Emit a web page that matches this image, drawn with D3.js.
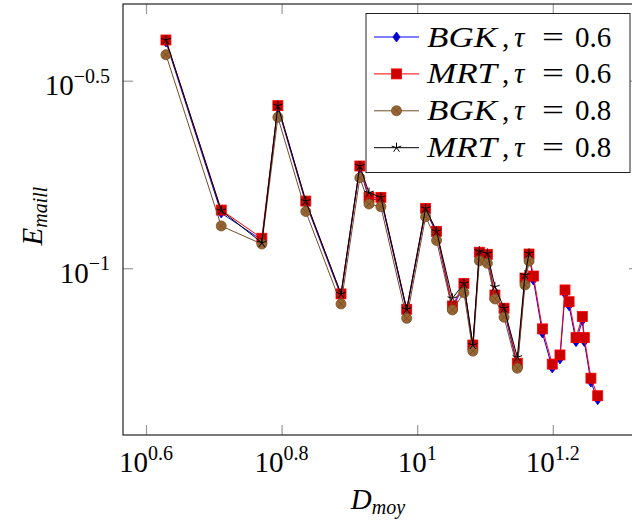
<!DOCTYPE html>
<html>
<head>
<meta charset="utf-8">
<script src="https://cdn.jsdelivr.net/npm/d3@7"></script>
<style>
  body { margin: 0; background: #fff; }
  svg { display: block; }
</style>
</head>
<body>
<div class="canva"></div>
<script>
// mean diameter (x), shared by all series; the tau = 0.8 runs stop after 22 points
const dMoy = [4.26, 5.14, 5.90, 6.23, 6.85, 7.72, 8.23, 8.49, 8.84, 9.65, 10.29, 10.68,
    11.27, 11.72, 12.08, 12.35, 12.69, 13.02, 13.43, 14.05, 14.42, 14.62, 14.84, 15.30,
    15.82, 16.24, 16.52, 16.75, 17.15, 17.52, 17.64, 18.04, 18.46];

const bgk06 = [0.401, 0.1403, 0.1188, 0.268, 0.1492, 0.0844, 0.185, 0.1526, 0.1526, 0.0768,
    0.1427, 0.1239, 0.0783, 0.0900, 0.0616, 0.1090, 0.1076, 0.0838, 0.0772, 0.0551, 0.0930,
    0.1078, 0.0930, 0.0672, 0.0542, 0.0573, 0.0854, 0.0794, 0.0637, 0.0725, 0.0637, 0.0497, 0.0446];

const mrt06 = [0.406, 0.1429, 0.1202, 0.2713, 0.1510, 0.0854, 0.1873, 0.1545, 0.1545, 0.0777,
    0.1444, 0.1254, 0.0793, 0.0911, 0.0624, 0.1103, 0.1089, 0.0848, 0.0782, 0.0558, 0.0941,
    0.1091, 0.0953, 0.0689, 0.0555, 0.0587, 0.0875, 0.0814, 0.0653, 0.0743, 0.0653, 0.0509, 0.0457];

const bgk08 = [0.371, 0.1296, 0.1160, 0.2526, 0.1416, 0.0803, 0.1743, 0.1483, 0.1459, 0.0735,
    0.1372, 0.1186, 0.0774, 0.0860, 0.0601, 0.1047, 0.1031, 0.0828, 0.0740, 0.0541, 0.0902, 0.1045];

const mrt08 = [0.406, 0.1425, 0.1169, 0.2713, 0.1510, 0.0854, 0.1873, 0.1590, 0.1545, 0.0777,
    0.1444, 0.1254, 0.0831, 0.0911, 0.0624, 0.1110, 0.1095, 0.0892, 0.0782, 0.0579, 0.0959, 0.1095];

const xTickExps = [0.6, 0.8, 1, 1.2];
const yTickExps = [-0.5, -1];

const seriesNames = ["BGK", "MRT", "BGK", "MRT"];
const seriesTaus = ["0.6", "0.6", "0.8", "0.8"];

const width = 632, height = 523;
const margin = { top: 4, right: -7, bottom: 88, left: 123 };
const plotW = width - margin.left - margin.right;
const plotH = height - margin.top - margin.bottom;
const font = "'Liberation Serif', 'Times New Roman', serif";

const svg = d3.select(".canva").append("svg")
    .attr("width", width)
    .attr("height", height)
    .attr("font-family", font);

const x = d3.scaleLog()
    .domain([Math.pow(10, 0.56608), Math.pow(10, 1.32714)])
    .range([0, plotW]);
const y = d3.scaleLog()
    .domain([Math.pow(10, -1.4448), Math.pow(10, -0.29547)])
    .range([plotH, 0]);

const graph = svg.append("g")
    .attr("transform", `translate(${margin.left}, ${margin.top})`);

// ticks (inward, on all four sides)
const xTicks = xTickExps.map(e => Math.pow(10, e));
const yTicks = yTickExps.map(e => Math.pow(10, e));
const styleTicks = g => {
    g.select(".domain").remove();
    g.selectAll("line").attr("stroke", "#999").attr("stroke-width", 1.2);
    g.selectAll("text").remove();
};
graph.append("g").attr("transform", `translate(0, ${plotH})`)
    .call(d3.axisBottom(x).tickValues(xTicks).tickSize(-10)).call(styleTicks);
graph.append("g")
    .call(d3.axisTop(x).tickValues(xTicks).tickSize(-10)).call(styleTicks);
graph.append("g")
    .call(d3.axisLeft(y).tickValues(yTicks).tickSize(-10)).call(styleTicks);
graph.append("g").attr("transform", `translate(${plotW}, 0)`)
    .call(d3.axisRight(y).tickValues(yTicks).tickSize(-10)).call(styleTicks);

// tick labels as 10^e
xTickExps.forEach(e => {
    const t = graph.append("text")
        .attr("x", x(Math.pow(10, e)))
        .attr("y", plotH + 37)
        .attr("text-anchor", "middle")
        .attr("font-family", font)
        .style("font-size", "29px");
    t.append("tspan").text("10");
    t.append("tspan").attr("dy", -12.5).style("font-size", "20px").text(String(e));
});
yTickExps.forEach(e => {
    const t = graph.append("text")
        .attr("x", -13)
        .attr("y", y(Math.pow(10, e)) + 14.5)
        .attr("text-anchor", "end")
        .attr("font-family", font)
        .style("font-size", "29px");
    t.append("tspan").text("10");
    t.append("tspan").attr("dy", -12.5).style("font-size", "20px").text(String(e).replace("-", "\u2212"));
});

// axis labels
const xl = svg.append("text")
    .attr("x", 378)
    .attr("y", 509)
    .attr("text-anchor", "middle")
    .attr("font-family", font)
    .style("font-size", "29px")
    .style("font-style", "italic");
xl.append("tspan").text("D");
xl.append("tspan").attr("dy", 4.5).style("font-size", "20px").text("moy");

const yl = svg.append("text")
    .attr("transform", "translate(42, 216) rotate(-90)")
    .attr("text-anchor", "middle")
    .attr("font-family", font)
    .style("font-size", "29px")
    .style("font-style", "italic");
yl.append("tspan").text("E");
yl.append("tspan").attr("dy", 4.5).style("font-size", "20px").text("maill");

// marker shapes
const markers = {
    diamond: (g, c) => g.append("path").attr("d", "M0,-5L3.6,0L0,5L-3.6,0Z")
        .attr("fill", "#0000cc").attr("stroke", c.color).attr("stroke-width", 0.8),
    square: (g, c) => g.append("rect").attr("x", -5).attr("y", -5).attr("width", 10).attr("height", 10)
        .attr("fill", "#cc0000").attr("stroke", c.color).attr("stroke-width", 0.8),
    otimes: (g, c) => {
        g.append("circle").attr("r", 5).attr("fill", "#996633").attr("stroke", c.color).attr("stroke-width", 0.8);
        g.append("path").attr("d", "M-3.5,-3.5L3.5,3.5M-3.5,3.5L3.5,-3.5")
            .attr("stroke", c.color).attr("stroke-width", 0.8);
    },
    star: (g, c) => {
        const d = d3.range(5).map(k => {
            const a = (90 + 72 * k) * Math.PI / 180;
            return `M0,0L${(5 * Math.cos(a)).toFixed(2)},${(-5 * Math.sin(a)).toFixed(2)}`;
        }).join("");
        g.append("path").attr("d", d).attr("stroke", c.color).attr("stroke-width", 1).attr("fill", "none");
    }
};

const series = [
    { values: bgk06, color: "#0000ff", mark: "diamond" },
    { values: mrt06, color: "#ff0000", mark: "square" },
    { values: bgk08, color: "#734d26", mark: "otimes" },
    { values: mrt08, color: "#000000", mark: "star" }
];

const line = d3.line()
    .x(d => x(d.x))
    .y(d => y(d.y));

const plotArea = graph.append("g");
series.forEach(s => {
    const pts = s.values.map((v, i) => ({ x: dMoy[i], y: v }));
    plotArea.append("path")
        .datum(pts)
        .attr("fill", "none")
        .attr("stroke", s.color)
        .attr("stroke-width", 1)
        .attr("d", line);
    plotArea.selectAll(null)
        .data(pts)
        .enter()
        .append("g")
        .attr("transform", d => `translate(${x(d.x)}, ${y(d.y)})`)
        .each(function () { markers[s.mark](d3.select(this), s); });
});

// frame
graph.append("rect")
    .attr("width", plotW)
    .attr("height", plotH)
    .attr("fill", "none")
    .attr("stroke", "#222")
    .attr("stroke-width", 1.2);

// legend
const legend = svg.append("g").attr("transform", "translate(366, 13.5)");
legend.append("rect")
    .attr("width", 264)
    .attr("height", 159)
    .attr("fill", "white")
    .attr("stroke", "#222")
    .attr("stroke-width", 1);

series.forEach((s, i) => {
    const row = legend.append("g").attr("transform", `translate(0, ${23.5 + i * 36.9})`);
    row.append("line")
        .attr("x1", 8).attr("x2", 53)
        .attr("stroke", s.color).attr("stroke-width", 1);
    markers[s.mark](row.append("g").attr("transform", "translate(30.5, 0)"), s);

    const parts = [
        { t: seriesNames[i], x: 61, italic: true, len: 70 },
        { t: ",", x: 136 },
        { t: "\u03c4", x: 148, italic: true },
        { t: "=", x: 176, len: 22 },
        { t: seriesTaus[i], x: 209 }
    ];
    parts.forEach(p => {
        const t = row.append("text")
            .attr("x", p.x)
            .attr("y", 9.5)
            .attr("font-family", font)
            .style("font-size", "29px")
            .style("font-style", p.italic ? "italic" : "normal")
            .text(p.t);
        if (p.len) t.attr("textLength", p.len).attr("lengthAdjust", "spacingAndGlyphs");
    });
});
</script>
</body>
</html>
